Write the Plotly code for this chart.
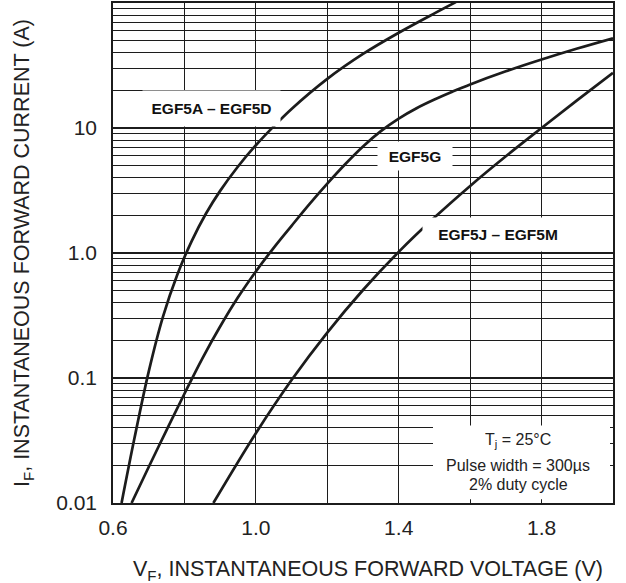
import plotly.graph_objects as go

# ---- data ----
vf_a = [0.624, 0.66, 0.70, 0.74, 0.78, 0.82, 0.86, 0.90, 0.95, 1.00, 1.05, 1.10, 1.20, 1.30, 1.40, 1.50, 1.56]
if_a = [0.01, 0.0329, 0.1125, 0.31, 0.671, 1.24, 2.06, 3.14, 4.92, 7.28, 10.3, 14.2, 24.7, 39.1, 57.8, 82.6, 101.6]

vf_g = [0.652, 0.70, 0.75, 0.80, 0.85, 0.90, 0.95, 1.00, 1.05, 1.10, 1.15, 1.20, 1.25, 1.30, 1.35,
        1.40, 1.45, 1.50, 1.55, 1.60, 1.70, 1.80, 1.90, 2.00]
if_g = [0.01, 0.0194, 0.0383, 0.0748, 0.143, 0.258, 0.442, 0.712, 1.10, 1.65, 2.46, 3.59, 5.13, 7.12, 9.44,
        11.9, 14.4, 16.9, 19.5, 22.3, 28.4, 35.3, 43.2, 52.2]

vf_j = [0.881, 1.00, 1.10, 1.20, 1.30, 1.40, 1.50, 1.60, 1.70, 1.80, 1.90, 2.00]
if_j = [0.01, 0.0362, 0.0964, 0.231, 0.506, 1.02, 1.92, 3.44, 5.94, 10.0, 16.7, 27.6]

series_names = ["EGF5A – EGF5D", "EGF5G", "EGF5J – EGF5M"]

x_tickvals = [0.6, 1.0, 1.4, 1.8]
x_ticktext = ["0.6", "1.0", "1.4", "1.8"]
x_minor = [0.8, 1.2, 1.6, 2.0]
y_tickvals = [0.01, 0.1, 1, 10]
y_ticktext = ["0.01", "0.1", "1.0", "10"]
y_minor = [m * 10.0 ** e for e in range(-2, 2) for m in range(2, 10)]

FONT = "Liberation Sans, Arial, sans-serif"
INK = "#1c1c1c"
TXT = "#222222"

fig = go.Figure()
for vx, iy, nm in zip([vf_a, vf_g, vf_j], [if_a, if_g, if_j], series_names):
    fig.add_trace(go.Scatter(x=vx, y=iy, mode="lines", name=nm,
                             line=dict(color=INK, width=2.7, shape="spline", smoothing=1.0),
                             showlegend=False, hoverinfo="skip"))

fig.update_layout(
    width=626, height=583,
    margin=dict(l=113, r=13, t=3, b=80),
    paper_bgcolor="white", plot_bgcolor="white",
    font=dict(family=FONT, color=TXT, size=21),
)

fig.update_xaxes(
    range=[0.6, 2.0], tickvals=x_tickvals, ticktext=x_ticktext,
    showgrid=True, gridcolor=INK, gridwidth=1,
    minor=dict(tickmode="array", tickvals=x_minor, showgrid=True, gridcolor=INK, gridwidth=1, ticks=""),
    showline=True, linecolor=INK, linewidth=1.5, mirror=True,
    ticks="", ticklabelstandoff=5, zeroline=False, automargin=False,
    tickfont=dict(size=21, family=FONT, color=TXT),
)
fig.update_yaxes(
    type="log", range=[-2, 2], tickvals=y_tickvals, ticktext=y_ticktext,
    showgrid=True, gridcolor=INK, gridwidth=2,
    minor=dict(tickmode="array", tickvals=y_minor, showgrid=True, gridcolor=INK, gridwidth=1, ticks=""),
    showline=True, linecolor=INK, linewidth=1.5, mirror=True,
    ticks="", ticklabelstandoff=10, zeroline=False, automargin=False,
    tickfont=dict(size=21, family=FONT, color=TXT),
)

# curve labels (white boxes interrupt the grid)
lab_font = dict(family=FONT, size=15.5, color="#111")
fig.add_annotation(x=0.8758, y=1.1536, xref="x", yref="y", text="<b>" + series_names[0] + "</b>",
                   xanchor="center", yanchor="middle",
                   showarrow=False, bgcolor="white", width=135, height=33, borderpad=1, font=lab_font)
fig.add_annotation(x=1.4456, y=0.7736, xref="x", yref="y", text="<b>" + series_names[1] + "</b>",
                   xanchor="center", yanchor="middle",
                   showarrow=False, bgcolor="white", width=72, height=26, borderpad=1, font=lab_font)
fig.add_annotation(x=1.6766, y=0.1496, xref="x", yref="y", text="<b>" + series_names[2] + "</b>",
                   xanchor="center", yanchor="middle",
                   showarrow=False, bgcolor="white", width=148, height=31, borderpad=1, font=lab_font)

# conditions box
fig.add_shape(type="rect", xref="paper", yref="paper", x0=0.64, x1=0.994, y0=0.0074, y1=0.155,
              fillcolor="white", line=dict(width=0), layer="above")
cond_font = dict(family=FONT, size=16, color=TXT)
for txt, yy in [("T<sub>j</sub> = 25°C", 0.1254), ("Pulse width = 300µs", 0.0754), ("2% duty cycle", 0.0374)]:
    fig.add_annotation(x=0.81, y=yy, xref="paper", yref="paper", text=txt,
                       xanchor="center", yanchor="middle", showarrow=False, font=cond_font)

# axis titles
title_font = dict(family=FONT, size=21.5, color=TXT)
fig.add_annotation(x=0.51, y=-0.1346, xref="paper", yref="paper",
                   text="V<sub>F</sub>, INSTANTANEOUS FORWARD VOLTAGE (V)",
                   xanchor="center", yanchor="middle", showarrow=False, font=title_font)
fig.add_annotation(x=-0.18, y=0.5, xref="paper", yref="paper", textangle=-90,
                   text="I<sub>F</sub>, INSTANTANEOUS FORWARD CURRENT (A)",
                   xanchor="center", yanchor="middle", showarrow=False, font=title_font)

fig.write_html("out.html", config={"displayModeBar": False},
               post_script="document.body.style.margin='0';")
